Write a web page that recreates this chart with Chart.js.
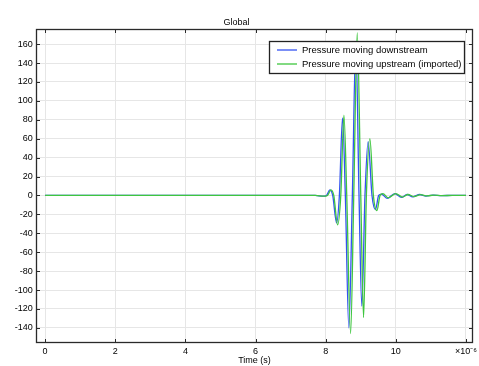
<!DOCTYPE html>
<html>
<head>
<meta charset="utf-8">
<script src="https://cdn.jsdelivr.net/npm/chart.js@4/dist/chart.umd.min.js"></script>
<style>
  html, body { margin: 0; padding: 0; background: #fff; }
</style>
</head>
<body>
<canvas id="chart" width="479" height="366"></canvas>
<script>
const FONT = "'Liberation Sans', Arial, sans-serif";

// time in microseconds (axis shows x10^-6), pressure in Pa
const timeDown = [0, 7.7, 7.92, 8.02, 8.12, 8.2, 8.31, 8.39, 8.48, 8.56, 8.66, 8.76, 8.86, 8.95, 9.03, 9.12, 9.21, 9.32, 9.42, 9.51, 9.59, 9.75, 9.97, 10.16, 10.32, 10.48, 10.68, 10.86, 11.05, 11.3, 11.6, 12];
const pressureDown = [0, 0, -0.8, 0, 6, 0, -29, 0, 82, 0, -140, 0, 162, 0, -117, 0, 57, 0, -15, 0, 1.5, -3, 2, -2, 1, -1.4, 1, -0.6, 0.4, -0.2, 0.1, 0];

const timeUp = [0, 7.7, 7.95, 8.05, 8.15, 8.23, 8.34, 8.43, 8.52, 8.6, 8.71, 8.8, 8.9, 9.0, 9.08, 9.16, 9.26, 9.36, 9.46, 9.55, 9.63, 9.78, 10.0, 10.19, 10.35, 10.51, 10.71, 10.89, 11.08, 11.33, 11.63, 12];
const pressureUp = [0, 0, -0.8, 0, 6, 0, -31, 0, 85, 0, -146, 0, 172, 0, -129, 0, 60, 0, -16, 0, 2, -2.5, 2, -1.8, 1, -1.2, 0.9, -0.5, 0.4, -0.2, 0.1, 0];

const seriesLabels = ["Pressure moving downstream", "Pressure moving upstream (imported)"];
const seriesColors = ["#3352f2", "#3fc63f"];

const xTicks = [0, 2, 4, 6, 8, 10, 12];

function toPoints(xs, ys) {
  return xs.map((x, i) => ({ x: x, y: ys[i] }));
}

// frame, inward tick marks and boxed legend inside the plot
const comsolFrame = {
  id: "comsolFrame",
  afterDatasetsDraw(chart) {
    const ctx = chart.ctx;
    const { left, right, top, bottom } = chart.chartArea;
    const xs = chart.scales.x, ys = chart.scales.y;
    ctx.save();
    ctx.strokeStyle = "#2a2a2a";
    ctx.lineWidth = 1;
    ctx.beginPath();
    xs.ticks.forEach(t => {
      const px = Math.round(xs.getPixelForValue(t.value)) + 0.5;
      ctx.moveTo(px, bottom); ctx.lineTo(px, bottom - 4);
      ctx.moveTo(px, top); ctx.lineTo(px, top + 4);
    });
    ys.ticks.forEach(t => {
      const py = Math.round(ys.getPixelForValue(t.value)) + 0.5;
      ctx.moveTo(left, py); ctx.lineTo(left + 4, py);
      ctx.moveTo(right, py); ctx.lineTo(right - 4, py);
    });
    ctx.stroke();
    ctx.lineWidth = 1.3;
    ctx.strokeRect(left + 0.5, top + 0.5, right - left - 1, bottom - top - 1);

    // legend
    ctx.font = "9.5px " + FONT;
    const sets = chart.data.datasets;
    const textW = Math.max(...sets.map(d => ctx.measureText(d.label).width));
    const boxRight = right - 8.5;
    const boxTop = top + 12.5;
    const boxLeft = Math.round(boxRight - 4 - textW - 5 - 20 - 7.5) + 0.5;
    const rowH = 14;
    const boxH = 32;
    ctx.fillStyle = "#fff";
    ctx.fillRect(boxLeft, boxTop, boxRight - boxLeft, boxH);
    ctx.strokeStyle = "#222";
    ctx.lineWidth = 1.3;
    ctx.strokeRect(boxLeft, boxTop, boxRight - boxLeft, boxH);
    ctx.textBaseline = "middle";
    ctx.textAlign = "left";
    sets.forEach((d, i) => {
      const y = boxTop + 8.5 + i * rowH;
      ctx.strokeStyle = d.borderColor;
      ctx.lineWidth = 1.3;
      ctx.beginPath();
      ctx.moveTo(boxLeft + 7.5, y);
      ctx.lineTo(boxLeft + 27.5, y);
      ctx.stroke();
      ctx.fillStyle = "#000";
      ctx.fillText(d.label, boxLeft + 32.5, y);
    });
    ctx.restore();
  }
};

new Chart(document.getElementById("chart"), {
  type: "line",
  data: {
    datasets: [
      {
        label: seriesLabels[0],
        data: toPoints(timeDown, pressureDown),
        borderColor: seriesColors[0],
        borderWidth: 1.3,
        pointRadius: 0,
        cubicInterpolationMode: "monotone",
        fill: false,
        order: 1
      },
      {
        label: seriesLabels[1],
        data: toPoints(timeUp, pressureUp),
        borderColor: seriesColors[1],
        borderWidth: 1.3,
        pointRadius: 0,
        cubicInterpolationMode: "monotone",
        fill: false,
        order: 0
      }
    ]
  },
  options: {
    responsive: false,
    animation: false,
    layout: { padding: { left: 0, right: 6, top: 0, bottom: 0 } },
    plugins: {
      legend: { display: false },
      tooltip: { enabled: false },
      title: {
        display: true,
        text: "Global",
        color: "#000",
        font: { family: FONT, size: 9, weight: "normal" },
        padding: { top: 17.6, bottom: 0.6 }
      }
    },
    scales: {
      x: {
        type: "linear",
        min: -0.26,
        max: 12.2,
        afterBuildTicks(scale) {
          scale.ticks = xTicks.map(v => ({ value: v }));
        },
        afterFit(scale) {
          scale.height = 23;
          scale.paddingLeft = 0;
          scale.paddingRight = 0;
        },
        grid: { color: "#e6e6e6", drawTicks: false },
        border: { display: false },
        ticks: {
          autoSkip: false,
          maxRotation: 0,
          padding: 3.3,
          color: "#000",
          font: { family: FONT, size: 9 },
          callback: v => (v === 12 ? "\u00d710\u207b\u2076" : String(v))
        },
        title: {
          display: true,
          text: "Time (s)",
          color: "#000",
          font: { family: FONT, size: 9 },
          padding: { top: 0, bottom: 0 }
        }
      },
      y: {
        type: "linear",
        min: -156,
        max: 176,
        afterFit(scale) {
          scale.width = 36;
          scale.paddingTop = 0;
          scale.paddingBottom = 0;
        },
        grid: { color: "#e6e6e6", drawTicks: false },
        border: { display: false },
        ticks: {
          stepSize: 20,
          includeBounds: false,
          padding: 3.3,
          color: "#000",
          font: { family: FONT, size: 9 }
        }
      }
    }
  },
  plugins: [comsolFrame]
});
</script>
</body>
</html>
